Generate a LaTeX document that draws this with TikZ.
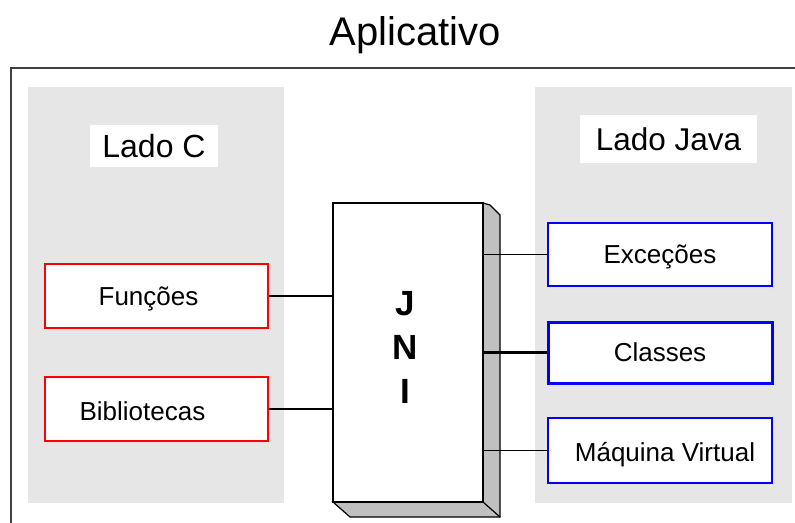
\documentclass[tikz,border=0pt]{standalone}
\usepackage{fontspec}
\setmainfont{Liberation Sans}
\begin{document}
\begin{tikzpicture}[x=1pt,y=-1pt,
  lbl/.style={inner sep=0pt, text height=18.7pt, text depth=0pt, font=\fontsize{26}{26}\selectfont},
  biglbl/.style={inner sep=0pt, text height=22.8pt, text depth=0pt, font=\fontsize{32}{32}\selectfont},
  jnilbl/.style={inner sep=0pt, text height=25.2pt, text depth=0pt, font=\fontsize{35}{35}\selectfont\bfseries},
  cbox/.style={draw=red, line width=2pt, fill=white, minimum width=223pt, minimum height=64pt, inner sep=0pt},
  jbox/.style={draw=blue, line width=2pt, fill=white, minimum width=224pt, minimum height=63pt, inner sep=0pt},
  side/.style={fill=white, inner sep=0pt, minimum width=128pt, minimum height=42pt},
  conn/.style={line width=1.2pt, draw=black}]
\definecolor{panelgray}{HTML}{E6E6E6}
\definecolor{framegray}{HTML}{404040}
\definecolor{shade}{HTML}{C0C0C0}
\useasboundingbox (0,0) rectangle (795,522);
\fill[white] (0,0) rectangle (795,522);
% title
\node[inner sep=0pt, text height=28.6pt, text depth=0pt, font=\fontsize{40}{40}\selectfont] (title) at (415,31) {Aplicativo};
% outer frame
\draw[framegray, line width=2.5pt] (11,540) -- (11,68) -- (810,68);
% panels
\fill[panelgray] (28,87) rectangle (284,503);
\fill[panelgray] (535,87) rectangle (792,503);
% side titles
\node[side, label={[biglbl]center:Lado C}] (ladoc) at (154,146) {};
\node[side, minimum width=177pt, minimum height=48pt, label={[biglbl, font=\fontsize{31.5}{31.5}\selectfont]center:Lado Java}] (ladoj) at (668.5,139) {};
% C boxes
\node[cbox, label={[lbl, xshift=-8pt]center:Funções}] (fun) at (156.5,296) {};
\node[cbox, label={[lbl, xshift=-14pt, yshift=-2pt]center:Bibliotecas}] (bib) at (156.5,409) {};
% Java boxes
\node[jbox, label={[lbl]center:Exceções}] (exc) at (660,254.5) {};
\node[jbox, line width=3pt, minimum height=61pt, label={[lbl]center:Classes}] (cls) at (660,352.5) {};
\node[jbox, minimum height=65pt, label={[lbl, xshift=5pt, yshift=-2pt]center:Máquina Virtual}] (maq) at (660,450.5) {};
% JNI shadow
\filldraw[fill=shade, draw=black, line width=1.2pt]
  (483,203) -- (490,205) -- (500,215) -- (500,517) -- (350,517) -- (333,502) -- (483,502) -- cycle;
\draw[line width=1.2pt] (483,502) -- (500,517);
% JNI front
\node[draw=black, line width=1.5pt, fill=white, minimum width=150pt, minimum height=299pt, inner sep=0pt] (jni) at (408,352.5) {};
\node[jnilbl] (jj) at (405,303) {J};
\node[jnilbl] (jn) at (405,347) {N};
\node[jnilbl] (ji) at (405,391) {I};
% connectors
\draw[conn] (fun.east) -- (fun.east -| jni.west);
\draw[conn] (bib.east) -- (bib.east -| jni.west);
\draw[conn] (exc.west) -- (exc.west -| jni.east);
\draw[conn, line width=2.5pt] (cls.west) -- (cls.west -| jni.east);
\draw[conn] (maq.west) -- (maq.west -| jni.east);
\end{tikzpicture}
\end{document}
